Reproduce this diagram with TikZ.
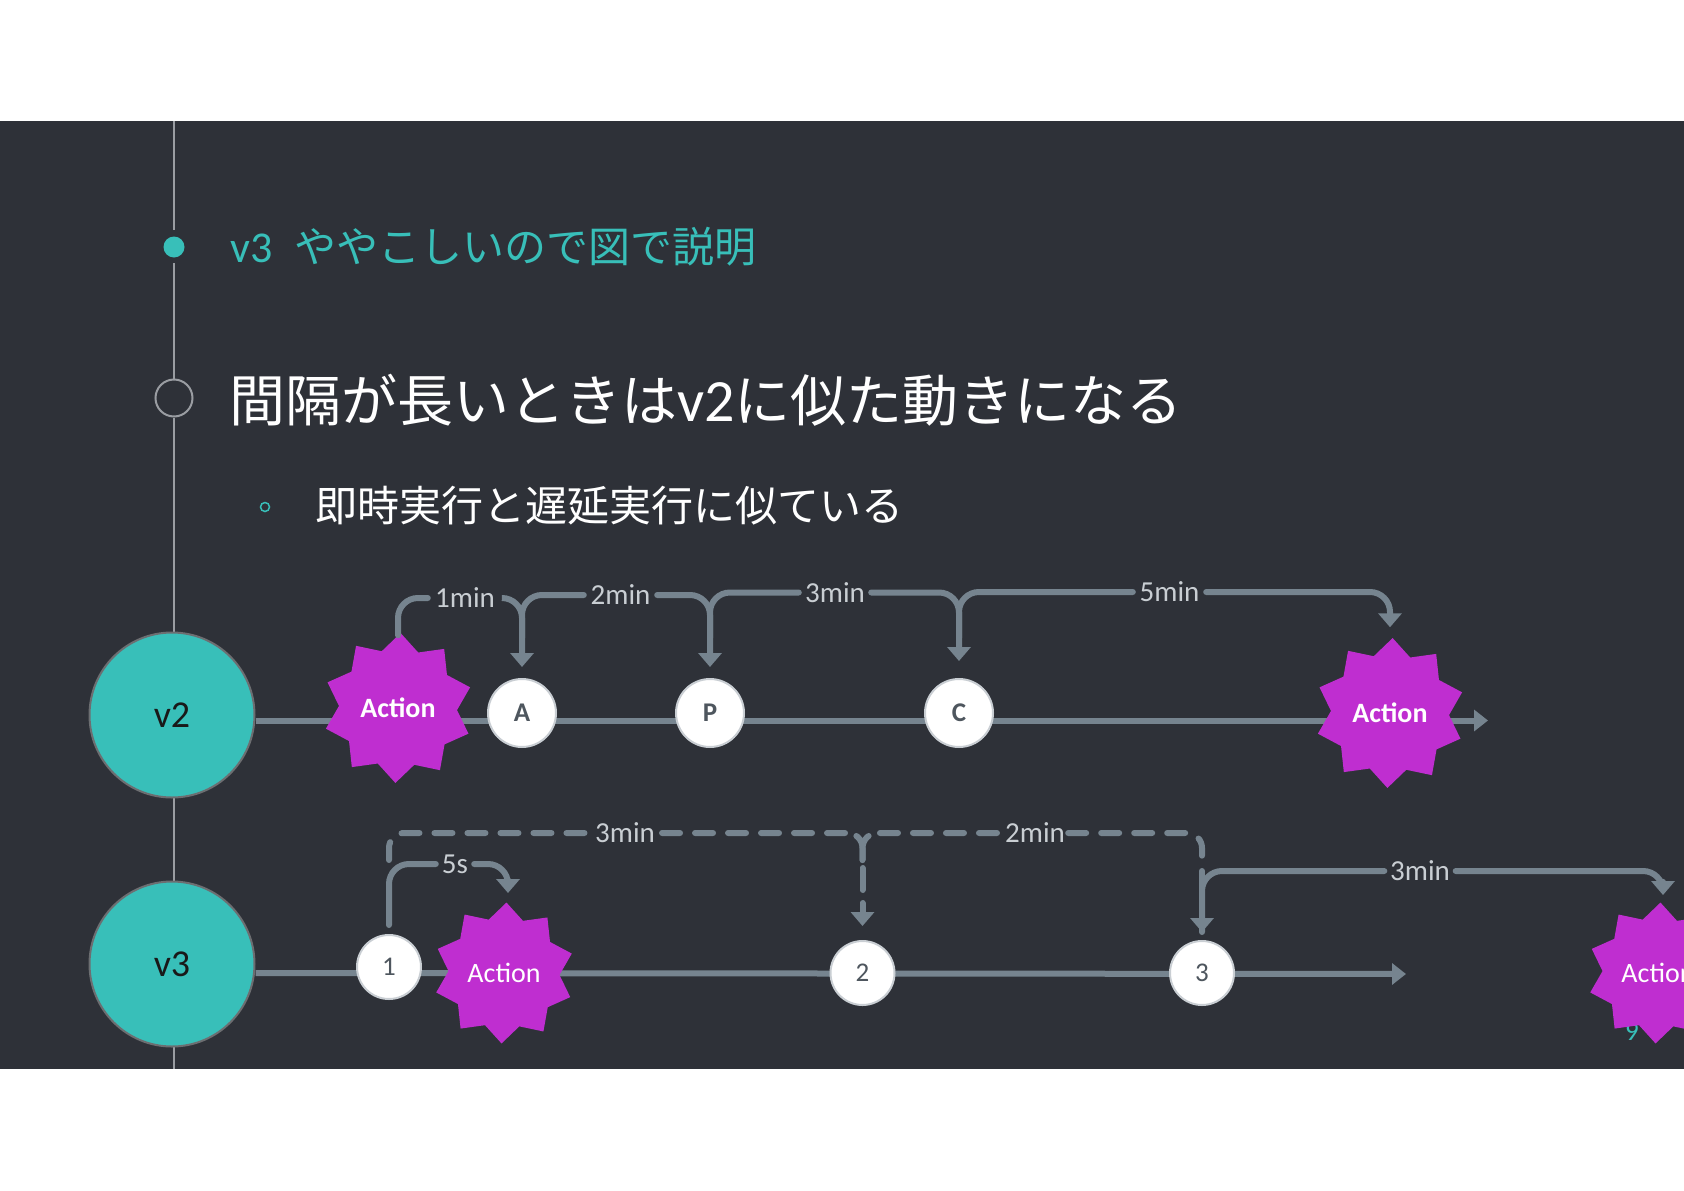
\documentclass[tikz,border=0pt]{standalone}
\usepackage{fontspec}
\usetikzlibrary{shapes.geometric,arrows.meta,calc}
\setmainfont{Carlito}
\newfontfamily\cjk{Noto Sans CJK JP}
\definecolor{slide}{HTML}{2E3138}
\definecolor{teal}{HTML}{38BFB9}
\definecolor{flow}{HTML}{76848F}
\definecolor{burst}{HTML}{BF2ED0}
\definecolor{rail}{HTML}{9A9DA2}
\definecolor{lab}{HTML}{C9CED3}
\definecolor{nodetext}{HTML}{4E565E}
\tikzset{
  ver/.style={circle,draw=rail!70!black,line width=2,fill=teal,minimum size=165,inner sep=0,text=black!90,font=\fontsize{38}{40}\selectfont},
  mainline/.style={draw=flow,line width=6,-{Triangle[length=14,width=21]}},
  act/.style={star,star points=10,star point ratio=1.27,shape border rotate=-2,fill=burst,draw=none,inner sep=0,minimum size=#1,text=white,font=\fontsize{28}{30}\selectfont},
  tick/.style={circle,fill=white,draw=lab,line width=2,minimum size=#1,inner sep=0,text=nodetext,font=\fontsize{27}{30}\selectfont},
  lbl/.style={inner sep=0,text=lab,minimum width=#1,minimum height=24,font=\fontsize{29}{30}\selectfont},
  link/.style={draw=flow,line width=6,rounded corners=20,line cap=round},
  dlink/.style={draw=flow,line width=6,rounded corners=15,line cap=round,dash pattern=on 18 off 15},
  yarm/.style={dlink,dash pattern=on 26 off 12 on 18 off 15 on 18 off 15 on 18 off 15 on 18 off 15 on 18 off 15 on 18 off 40},
  head/.style={-{Triangle[length=14,width=23]}}
}
\begin{document}
\begin{tikzpicture}[x=1pt,y=-1pt]
\clip (0,0) rectangle (1684,1191);
\fill[white] (0,0) rectangle (1684,1191);
\fill[slide] (0,121) rectangle (1684,1069);
% rail
\coordinate (railtop) at (174,121);
\coordinate (railbot) at (174,1069);
\node[circle,fill=teal,minimum size=21,inner sep=0] (dot) at (174,247) {};
\node[circle,draw=rail,line width=2,fill=slide,minimum size=37,inner sep=0] (ring) at (174,398) {};
\draw[rail,line width=2] (railtop) -- (174,230) (174,263) -- (ring.north) (ring.south) -- (railbot);
% slide text
\node[anchor=base west,inner sep=0,text=teal,font=\fontsize{42}{46}\selectfont] (title) at (230,262) {\fontsize{44}{46}\selectfont v3\hspace{22pt}{\cjk\fontsize{42}{46}\selectfont ややこしいので図で説明}};
\node[anchor=base west,inner sep=0,text=white,font=\fontsize{56}{60}\selectfont] (main) at (229,421) {{\cjk 間隔が長いときは}\fontsize{60}{60}\selectfont v2{\cjk\fontsize{56}{60}\selectfont に似た動きになる}};
\node[circle,draw=teal,line width=1.5,minimum size=9,inner sep=0] (bul) at (265,507) {};
\node[anchor=base west,inner sep=0,text=white,font=\fontsize{42}{46}\selectfont] (sub) at (315,521) {\cjk 即時実行と遅延実行に似ている};
\node[text=teal,inner sep=0,font=\fontsize{27}{28}\selectfont] (pg) at (1632,1032) {9};
% version circles
\node[ver] (v2) at (172,715) {v2};
\node[ver] (v3) at (172,964) {v3};
% timelines
\coordinate (end2) at (1488,720.5);
\coordinate (end3) at (1406,974);
\draw[mainline] (v2.east |- end2) -- (end2);
\draw[mainline] (v3.east |- 0,973) -- (end3);
% events v2
\node[act=150] (a1) at (398,708) {\textbf{Action}};
\node[act=150] (a2) at (1390,713) {\textbf{Action}};
\node[tick=68] (nA) at (522,713) {\textbf{A}};
\node[tick=68] (nP) at (710,713) {\textbf{P}};
\node[tick=68] (nC) at (959,713) {\textbf{C}};
% events v3
\node[tick=64] (n1) at (389,967) {1};
\node[tick=64] (n2) at (862.5,973) {2};
\node[tick=64] (n3) at (1202,973) {3};
\node[act=141] (a3) at (504,973) {Action};
\node[act=141] (a4) at (1658,973) {Action};
% labels v2
\node[lbl=74] (l1) at (465,598) {1min};
\node[lbl=73] (l2) at (620.5,595) {2min};
\node[lbl=72] (l3) at (835,592.5) {3min};
\node[lbl=73] (l4) at (1169.5,592) {5min};
% labels v3
\node[lbl=70] (d1) at (625,833) {3min};
\node[lbl=66] (d2) at (1035,833) {2min};
\node[lbl=38] (l5) at (455,864) {5s};
\node[lbl=71] (l6) at (1420,871) {3min};
% v2 links
\draw[link] (a1.north) |- (l1.west);
\draw[link,head,shorten >=11] (l1.east) -| (nA.north);
\draw[link,shorten <=40] (nA.north) |- (l2.west);
\draw[link,head,shorten >=11] (l2.east) -| (nP.north);
\draw[link,shorten <=40] (nP.north) |- (l3.west);
\draw[link,head,shorten >=17] (l3.east) -| (nC.north);
\draw[link,shorten <=40] (nC.north) |- (l4.west);
\draw[link,head,shorten >=13] (l4.east) -| (a2.north);
% v3 links
\coordinate (t5) at (508,893);
\coordinate (t6) at (1663,895);
\coordinate (tn2) at (862.5,926);
\coordinate (tn3) at (1202,932);
\coordinate (s1) at (389,860);
\coordinate (e3) at (1202,858);
\coordinate (j2) at (862.5,860);
\coordinate (j3) at (862.5,868);
\draw[dlink] (s1) |- (d1.west);
\draw[yarm] (j2) |- (d1.east);
\draw[yarm] (j2) |- (d2.west);
\draw[dlink,head,dash pattern=on 22 off 13] (j3) -- (tn2);
\draw[dlink] (d2.east) -| (e3);
\draw[link,shorten <=9] (n1.north) |- (l5.west);
\draw[link,head] (l5.east) -| (t5);
\draw[link,head] (tn3 |- l6.west) -- (tn3);
\draw[link] (tn3) |- (l6.west);
\draw[link,head] (l6.east) -| (t6);
\end{tikzpicture}
\end{document}
